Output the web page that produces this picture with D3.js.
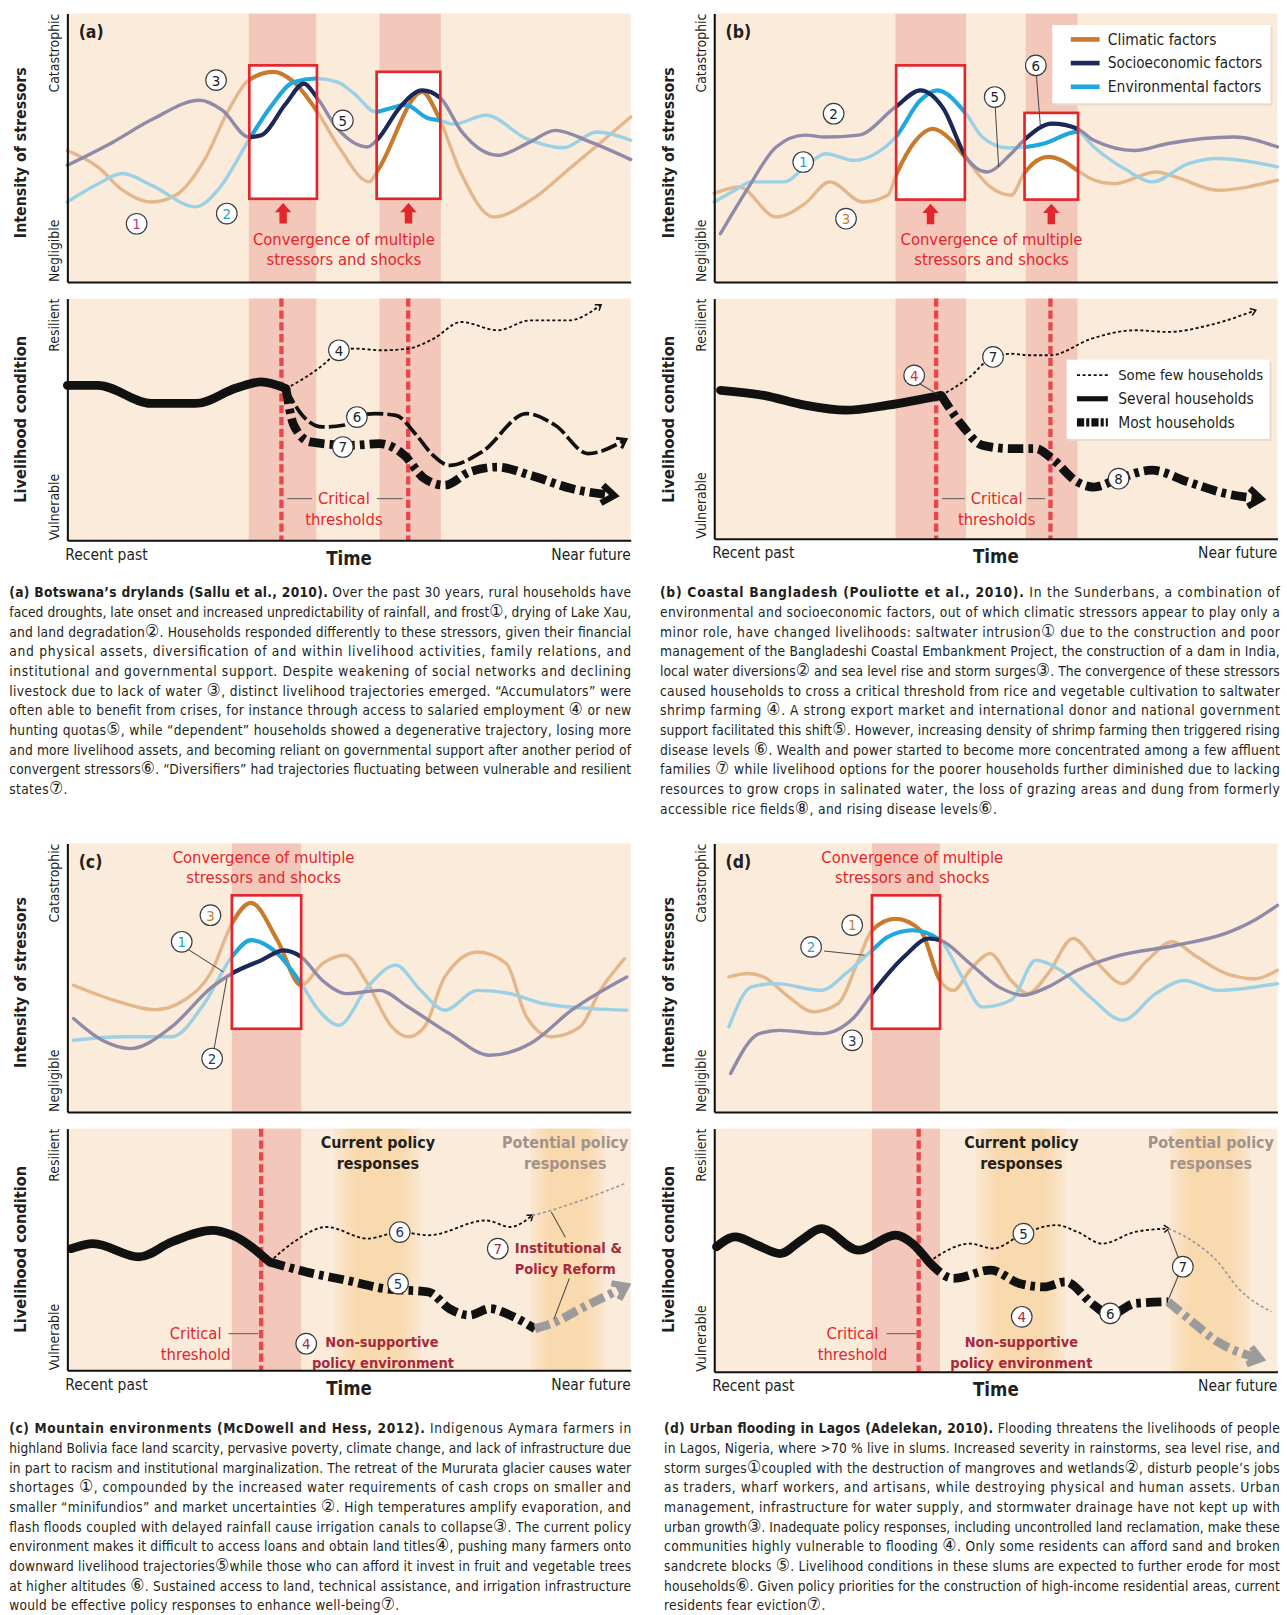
<!DOCTYPE html>
<html><head><meta charset="utf-8">
<script src="https://cdn.jsdelivr.net/npm/d3@7"></script>
<style>
body{margin:0;background:#fff}
svg{display:block}
text{font-family:"Liberation Sans Narrow","DejaVu Sans Condensed","Roboto Condensed","Noto Sans",sans-serif}
</style>
</head><body><script>
// ================= DATA =================
const stressorSeries = ["Climatic factors","Socioeconomic factors","Environmental factors"];
const householdSeries = ["Some few households","Several households","Most households"];
const stressTicks = ["Negligible","Catastrophic"];
const liveTicks = ["Vulnerable","Resilient"];
const timeTicks = ["Recent past","Near future"];
const timeTitle = "Time";
const stressTitle = "Intensity of stressors";
const liveTitle = "Livelihood condition";

// ---- Panel (a) ----
const aBands = [[32.2,44.2],[55.4,66.3]];
const aBoxes = [[32.3,44.3,31,80.7],[54.9,66.2,31,78.3]];
const aClim = [[0,49],[5.4,42.9],[9.8,34.2],[14.9,29.8],[19.2,32.3],[24.3,45.3],[28.6,64],[32.2,75.2],[36.6,78.3],[40.2,74.5],[44.2,64],[48.2,50.3],[53.6,37.3],[55.1,41.6],[63,70.8],[65.9,61.5],[69.9,40.4],[75.7,24.2],[82.2,30.4],[89.5,42.9],[100,61.5]];
const aSocio = [[0,43.5],[8,52],[15,60.5],[23.5,67.7],[27.5,64],[32.2,54],[34.4,54.7],[38.8,66.5],[42,73.9],[44.2,69],[48,57],[53.3,50.3],[55,53],[59,65],[63,71.4],[66.2,68.6],[70,56],[76.4,47.2],[82,52],[86.6,56.5],[93,52],[100,45.6]];
const aEnv = [[0,29.8],[5,36],[9.8,40.4],[15,36],[22.8,28],[27,35],[32.2,52.8],[36,65],[40.2,74.5],[44.2,75.8],[48,74.5],[51,70],[54.7,63.4],[57,64.5],[60,66],[64,61],[66.2,60.2],[68.5,58.8],[74.3,62.1],[81.5,53.4],[88,50],[94,55.9],[100,52.8]];
const aStressLabels = [["1",12.3,21.7,"#c2397a"],["2",28.3,25.5,"#26a3c8"],["3",26.4,75.2,"#222"],["5",48.9,60.2,"#222"]];
const aThresholds = [38,60.5];
const aPre = [[0,64.1],[5.4,64.1],[14.9,56.6],[22.8,56.6],[30,63],[34.4,65.5],[38.8,62.8]];
const aFew = [[38.8,62.8],[42,67],[46,73.8],[48.2,78.6],[51,79.3],[56,78.6],[60.5,79.3],[65,83.4],[69.9,90.3],[76.4,86.9],[82.2,91],[89,91],[94.6,97.2]];
const aSeveral = [[38.8,62.8],[41.7,51.7],[45.3,46.9],[49,47.6],[51.8,51.7],[54.7,52.4],[58.3,51.7],[62,43.4],[64.9,35.2],[67.8,31],[73.6,36.6],[81.5,52.4],[86.6,47.6],[92.4,35.9],[98.9,41.4]];
const aMost = [[38.8,62.8],[40.2,47.6],[43.1,40.7],[50.4,39.3],[55.4,40],[59.8,35.2],[63.4,25.5],[67,22.8],[71.4,28.3],[76.4,30.3],[82.2,26.9],[89.5,21.4],[96.7,18.6]];
const aLiveLabels = [["4",48.2,78.6,"#222"],["6",51.4,51,"#222"],["7",48.9,38.6,"#222"]];

// ---- Panel (b) ----
const bBands = [[32.2,44.7],[55.3,64.5]];
const bBoxes = [[32.3,44.5,30.7,80.7],[55.1,64.6,30.7,63]];
const bClim = [[0,33],[4.4,35.4],[11,24.2],[16.1,29.2],[20.5,37.3],[26.4,29.8],[30.8,32.3],[32.4,40.4],[35.5,52],[38.8,57.1],[42,53],[44.5,46.6],[49,35.4],[52.7,32.3],[55,40.4],[59.3,46.6],[62,45],[64.5,41.6],[67.4,38],[71,36.6],[78.4,41],[82,39.1],[89.4,34.2],[100,37.9]];
const bSocio = [[1.1,18],[6,35],[11,50.3],[16.1,54.7],[19.8,54],[25.6,54.7],[32.2,65.2],[36.6,71.4],[40.7,64.6],[44.7,46.6],[48.4,41],[52.7,47.8],[55.3,53.4],[60,59],[64.5,57.1],[67.4,52.8],[74.7,49],[80.6,51.6],[92.3,54],[100,50.3]];
const bEnv = [[0,29.8],[3.7,34.2],[6.6,37.3],[12.5,37.3],[16.1,42.9],[19.8,47.8],[24.9,45.3],[28.6,47.8],[32.2,54],[36.6,67.7],[39.6,71.4],[44.7,62.7],[47.6,54],[52,50],[55.3,50.3],[58.6,51.6],[64.5,56],[67.4,50.3],[73.3,41.6],[77.7,37.3],[84.2,44.1],[89.4,46],[100,42.9]];
const bStressLabels = [["1",15.8,44.7,"#26a3c8"],["2",21.2,62.7,"#222"],["3",23.4,23.6,"#c9802e"],["5",49.8,68.9,"#222"],["6",57.1,80.7,"#222"]];
const bStressLeaders = [[49.9,65,50.5,42.9],[57.2,77,57.9,58.4]];
const bThresholds = [39.4,59.7];
const bPre = [[1.1,61.8],[8.8,59.7],[16.1,55.6],[23.4,53.5],[30.8,55.6],[40.3,59.7]];
const bFew = [[40.3,59.7],[45.4,67.4],[49,75],[52.7,77],[56,76.4],[59.7,76.4],[67,83.3],[74.7,86.8],[80.6,86.1],[87.9,88.9],[96,95]];
const bMost = [[40.3,59.7],[44,47.2],[47.6,38.9],[52.7,37.5],[57.1,37.5],[60,33.3],[64.5,23.6],[67.4,21.5],[71.8,25],[77.7,28.5],[84.2,23.6],[90.8,18.8],[96.7,16.7]];
const bLiveLabels = [["4",35.5,68,"#e3262b"],["7",49.5,75.7,"#222"],["8",71.8,25,"#222"]];
const bLiveLeaders = [[36.5,64.5,39.6,60.2]];

// ---- Panel (c) ----
const cBands = [[29.2,41.5]];
const cBoxes = [[29.2,41.5,31,80.7]];
const cClim = [[1.1,47.2],[8.3,41.6],[15.6,38.1],[20.7,41.6],[25.7,52.8],[29.2,70.2],[32.6,77.9],[37.3,63.9],[41.5,47.2],[45.3,55.3],[49.3,58.4],[53.3,47.8],[57.6,31.7],[60.5,28],[63.4,31.7],[67,50.3],[72.8,59.6],[77.9,55.3],[81.5,35.4],[85.9,28],[91,31.7],[94.6,45.3],[98.9,57.1]];
const cSocio = [[1.1,34.8],[6.2,26.7],[11.2,23.6],[18.5,31.7],[25.7,46.6],[29.2,51.6],[34.4,56.5],[38.4,60.2],[41.5,57.8],[45.3,49],[49.6,44.1],[55.4,45.3],[60.5,39.1],[67.8,29.2],[75,21.1],[82.2,25.5],[89.5,37.9],[99.3,50.3]];
const cEnv = [[1.1,26.7],[9.8,28],[18.5,28],[24.3,40.4],[29.2,57.8],[32.6,64],[37.3,59],[41.5,47.8],[44.6,37.9],[48.2,32.3],[53.3,46.6],[58.3,54.7],[62.7,45.3],[67,37.9],[72.8,45.3],[78.6,44.1],[84.4,40.4],[93.1,38.5],[99.3,37.9]];
const cStressLabels = [["3",25.4,73.3,"#c9802e"],["1",20.3,63.4,"#26a3c8"],["2",25.7,19.9,"#2a3466"]];
const cStressLeaders = [[21.5,60.5,27.7,52.2],[26,23,28.3,49.7]];
const cThresholds = [34.4];
const cPolicyBands = [[47.5,62.7],[82.2,95.3]];
const cPre = [[0.7,50.3],[4.6,52.4],[12.7,46.9],[18.5,53.1],[25.7,57.9],[29.3,55.9],[35.9,44.8]];
const cFew = [[35.9,44.8],[40.2,53.1],[46,59.3],[53.3,54.5],[59,57.2],[64.1,55.9],[74.3,62],[78.6,59.3],[82.5,64]];
const cFewGrey = [[82.5,64],[85.9,66.2],[92,71],[98.9,77.2]];
const cMost = [[35.9,44.8],[42.4,40.7],[49.6,37.2],[56.2,33.8],[64.1,32.4],[67.8,25.5],[71.4,22.8],[75,25.5],[78.6,22.8],[83,17.2]];
const cMostGrey = [[83,17.2],[85.9,19.3],[91.7,26.2],[98.9,34.5]];
const cLiveLabels = [["6",59,57.2,"#2a3466"],["5",58.7,35.9,"#2a3466"],["7",76.4,50.3,"#a8283c"],["4",42.4,11,"#a8283c"]];
const cLiveLeaders = [[85.9,65.5,88.4,55],[89.1,38,86.4,21.4]];

// ---- Panel (d) ----
const dBands = [[28,40.1]];
const dBoxes = [[28,40.1,31,80.7]];
const dClim = [[2.6,50.3],[5.9,51.6],[8.8,50.3],[13.2,42.9],[17.6,37.3],[22,40.4],[25.6,56.5],[28,67.7],[32.2,72],[36.6,67.7],[40.1,49],[42.5,45.3],[45.4,52.8],[49,59],[52.7,49],[55.7,44.1],[59.3,51.6],[63.7,64.6],[68.1,55.3],[72.5,47.8],[76.9,56.5],[81.3,63.4],[85.7,57.8],[90.8,51.6],[96,49.6],[100,52.8]];
const dSocio = [[2.9,14.3],[8,29.2],[11.7,30.4],[19,29.2],[24.9,35.4],[28,44.1],[33.7,57.8],[38.1,64.6],[40.1,64],[45.4,55.3],[50.5,46.6],[54.9,43.5],[59.3,46.6],[64.5,52.8],[71,57.8],[82,62.1],[90.8,66.5],[95.9,71.4],[100,77]];
const dEnv = [[2.6,31.7],[6.6,46.6],[11,47.8],[19,45.3],[23.4,51.6],[28,60.2],[30.8,65.2],[35.2,67.7],[40.1,64],[44,50.3],[47.6,39.1],[52.7,41.6],[57.1,56.5],[61.5,52.8],[66.7,42.9],[72.5,34.2],[78.4,44.1],[83.5,49],[89.4,45.3],[100,47.8]];
const dStressLabels = [["1",24.5,69.6,"#c9802e"],["2",17.2,61.5,"#26a3c8"],["3",24.5,26.7,"#2a3466"]];
const dStressLeaders = [[19.5,60,26.7,58.4]];
const dThresholds = [36.3];
const dPolicyBands = [[46.5,62.3],[81,95.2]];
const dPre = [[0.4,51.4],[3.7,55.5],[7.7,52],[11.7,48.6],[15.4,54],[19,58.9],[25.6,50],[32.2,56.2],[35.2,52.7],[38.1,45.2]];
const dFew = [[38.1,45.2],[45.4,52.7],[49.5,50.7],[54.9,56.8],[60.8,60.3],[64.5,57.5],[68.9,52.7],[74.7,57.5],[80.6,58.9]];
const dFewGrey = [[80.6,58.9],[84.2,54.8],[89.4,45.2],[93.1,34.2],[98.9,24.7]];
const dMost = [[38.1,45.2],[42.5,38.4],[49.1,41.8],[54.2,36.3],[58.6,34.9],[62.3,37],[67.4,27.4],[70.3,23.3],[74.7,28.1],[80.6,28.8]];
const dMostGrey = [[80.6,28.8],[84.2,21.9],[89.4,12.3],[96.7,5.5]];
const dLiveLabels = [["5",54.9,56.8,"#222"],["7",83.2,43.2,"#222"],["6",70.3,24,"#222"],["4",54.6,22.6,"#a8283c"]];
const dLiveLeaders = [[82.4,47,80.6,58],[82.4,39.5,80.6,29.5]];

// ---- Captions ----
const capATitle = "(a) Botswana’s drylands (Sallu et al., 2010).";
const capALines = [
"  Over the past 30 years, rural households have",
"faced droughts, late onset and increased unpredictability of rainfall, and frost①, drying of Lake Xau,",
"and land degradation②. Households responded differently to these stressors, given their financial",
"and physical assets, diversification of and within livelihood activities, family relations, and",
"institutional and governmental support. Despite weakening of social networks and declining",
"livestock due to lack of water ③, distinct livelihood trajectories emerged. “Accumulators” were",
"often able to benefit from crises, for instance through access to salaried employment ④ or new",
"hunting quotas⑤, while “dependent” households showed a degenerative trajectory, losing more",
"and more livelihood assets, and becoming reliant on governmental support after another period of",
"convergent stressors⑥. “Diversifiers” had trajectories fluctuating between vulnerable and resilient",
"states⑦."];
const capBTitle = "(b) Coastal Bangladesh (Pouliotte et al., 2010).";
const capBLines = [
" In the Sunderbans, a combination of",
"environmental and socioeconomic factors, out of which climatic stressors appear to play only a",
"minor role, have changed livelihoods: saltwater intrusion① due to the construction and poor",
"management of the Bangladeshi Coastal Embankment Project, the construction of a dam in India,",
"local water diversions② and sea level rise and storm surges③. The convergence of these stressors",
"caused households to cross a critical threshold from rice and vegetable cultivation to saltwater",
"shrimp farming ④. A strong export market and international donor and national government",
"support facilitated this shift⑤. However, increasing density of shrimp farming then triggered rising",
"disease levels ⑥. Wealth and power started to become more concentrated among a few affluent",
"families ⑦ while livelihood options for the poorer households further diminished due to lacking",
"resources to grow crops in salinated water, the loss of grazing areas and dung from formerly",
"accessible rice fields⑧, and rising disease levels⑥."];
const capCTitle = "(c) Mountain environments (McDowell and Hess, 2012).";
const capCLines = [
"  Indigenous Aymara farmers in",
"highland Bolivia face land scarcity, pervasive poverty, climate change, and lack of infrastructure due",
"in part to racism and institutional marginalization. The retreat of the Mururata glacier causes water",
"shortages ①, compounded by the increased water requirements of cash crops on smaller and",
"smaller “minifundios” and market uncertainties ②. High temperatures amplify evaporation, and",
"flash floods coupled with delayed rainfall cause irrigation canals to collapse③. The current policy",
"environment makes it difficult to access loans and obtain land titles④, pushing many farmers onto",
"downward livelihood trajectories⑤while those who can afford it invest in fruit and vegetable trees",
"at higher altitudes ⑥. Sustained access to land, technical assistance, and irrigation infrastructure",
"would be effective policy responses to enhance well-being⑦."];
const capDTitle = "(d) Urban flooding in Lagos (Adelekan, 2010).";
const capDLines = [
"  Flooding threatens the livelihoods of people",
"in Lagos, Nigeria, where >70 % live in slums. Increased severity in rainstorms, sea level rise, and",
"storm surges①coupled with the destruction of mangroves and wetlands②, disturb people’s jobs",
"as traders, wharf workers, and artisans, while destroying physical and human assets. Urban",
"management, infrastructure for water supply, and stormwater drainage have not kept up with",
"urban growth③. Inadequate policy responses, including uncontrolled land reclamation, make these",
"communities highly vulnerable to flooding ④. Only some residents can afford sand and broken",
"sandcrete blocks ⑤. Livelihood conditions in these slums are expected to further erode for most",
"households⑥. Given policy priorities for the construction of high-income residential areas, current",
"residents fear eviction⑦."];

// ================= STYLE =================
const COL = {
  clim:"#c97a2c", climF:"#e4b78a", socio:"#1c2858", socioF:"#8f8aa8",
  env:"#1ea8de", envF:"#9bd1e4", red:"#e3262b", dred:"#a8283c",
  peach:"#fbebdb", band:"#f3c7b9", policy:"#f9d9ae", grey:"#9b9b9b", text:"#231f20"
};
const svg = d3.select("body").append("svg").attr("width",1287).attr("height",1615).attr("viewBox","0 0 1250 1568");
const defs = svg.append("defs");

function marker(id,color,size,sw){
  defs.append("marker").attr("id",id).attr("viewBox","0 0 10 10").attr("refX",6).attr("refY",5)
    .attr("markerWidth",size).attr("markerHeight",size).attr("orient","auto").attr("markerUnits","userSpaceOnUse")
    .append("path").attr("d","M1.5,1 L7,5 L1.5,9").attr("fill","none").attr("stroke",color).attr("stroke-width",sw);
}
marker("arT","#111",9,1.6);
marker("arM","#111",14,2.2);
marker("arK","#111",22,2.8);
marker("arKg",COL.grey,22,2.8);

const pg = defs.append("linearGradient").attr("id","polGrad");
[[0,0.25],[0.25,1],[0.75,1],[1,0.25]].forEach(s=>pg.append("stop").attr("offset",s[0]).attr("stop-color",COL.policy).attr("stop-opacity",s[1]));

function fitText(t,len){
  const w=t.node().getComputedTextLength();
  if(w>len){ const fs=parseFloat(t.attr("font-size")); t.attr("font-size",fs*len/w); }
}

function circ(g,x,y,d){
  g.append("circle").attr("cx",x(d[1])).attr("cy",y(d[2])).attr("r",10).attr("fill","#fff").attr("stroke","#3a3a3a").attr("stroke-width",1.1);
  g.append("text").attr("x",x(d[1])).attr("y",y(d[2])).attr("dy","0.36em").attr("text-anchor","middle")
    .attr("font-size",14.5).attr("fill",d[3]).text(d[0]);
}
function leaders(g,x,y,arr){
  g.selectAll(null).data(arr).join("line")
    .attr("x1",d=>x(d[0])).attr("y1",d=>y(d[1])).attr("x2",d=>x(d[2])).attr("y2",d=>y(d[3]))
    .attr("stroke","#4a4a4a").attr("stroke-width",1);
}
function axes(g,x,y,c){
  g.append("g").attr("transform",`translate(${c.x0},0)`).call(d3.axisLeft(y).tickValues([]).tickSizeOuter(0))
    .select(".domain").attr("stroke","#111").attr("stroke-width",2);
  g.append("g").attr("transform",`translate(0,${c.yb})`).call(d3.axisBottom(x).tickValues([]).tickSizeOuter(0))
    .select(".domain").attr("stroke","#111").attr("stroke-width",2);
}
function yLabels(g,c,ticks,title,tlen){
  g.append("text").attr("transform",`translate(${c.x0-8},${c.yt}) rotate(-90)`).attr("text-anchor","end")
    .attr("font-size",13.5).attr("fill",COL.text).text(ticks[1]);
  g.append("text").attr("transform",`translate(${c.x0-8},${c.yb}) rotate(-90)`).attr("text-anchor","start")
    .attr("font-size",13.5).attr("fill",COL.text).text(ticks[0]);
  const t=g.append("text").attr("transform",`translate(${c.x0-c.tx},${c.ty}) rotate(-90)`).attr("text-anchor","middle")
    .attr("font-size",18.5).attr("font-weight","bold").attr("fill",COL.text).text(title);
  fitText(t,tlen);
}

function stressPanel(c){
  const x=d3.scaleLinear([0,100],[c.x0,c.x1]), y=d3.scaleLinear([0,100],[c.yb,c.yt]);
  const g=svg.append("g");
  g.append("rect").attr("x",c.x0).attr("y",c.yt).attr("width",c.x1-c.x0).attr("height",c.yb-c.yt).attr("fill",COL.peach);
  g.append("g").selectAll("rect").data(c.bands).join("rect")
    .attr("x",d=>x(d[0])).attr("width",d=>x(d[1])-x(d[0])).attr("y",c.yt).attr("height",c.yb-c.yt).attr("fill",COL.band);
  g.append("g").selectAll("rect").data(c.boxes).join("rect")
    .attr("x",d=>x(d[0])).attr("width",d=>x(d[1])-x(d[0])).attr("y",d=>y(d[3])).attr("height",d=>y(d[2])-y(d[3])).attr("fill","#fff");
  const cid="clip"+c.id;
  defs.append("clipPath").attr("id",cid).selectAll("rect").data(c.boxes).join("rect")
    .attr("x",d=>x(d[0])).attr("width",d=>x(d[1])-x(d[0])).attr("y",d=>y(d[3])).attr("height",d=>y(d[2])-y(d[3]));
  const line=d3.line().x(d=>x(d[0])).y(d=>y(d[1])).curve(d3.curveMonotoneX);
  const ser=[[c.clim,COL.climF,COL.clim],[c.env,COL.envF,COL.env],[c.socio,COL.socioF,COL.socio]];
  ser.forEach(s=>g.append("path").attr("d",line(s[0])).attr("fill","none").attr("stroke",s[1]).attr("stroke-width",3.3).attr("stroke-linecap","round"));
  const gc=g.append("g").attr("clip-path",`url(#${cid})`);
  ser.forEach(s=>gc.append("path").attr("d",line(s[0])).attr("fill","none").attr("stroke",s[2]).attr("stroke-width",4));
  g.append("g").selectAll("rect").data(c.boxes).join("rect")
    .attr("x",d=>x(d[0])).attr("width",d=>x(d[1])-x(d[0])).attr("y",d=>y(d[3])).attr("height",d=>y(d[2])-y(d[3]))
    .attr("fill","none").attr("stroke",COL.red).attr("stroke-width",2.6);
  if(c.arrows){
    c.boxes.forEach(b=>{
      const cx=x((b[0]+b[1])/2), t=y(b[2])+4;
      g.append("path").attr("fill",COL.red)
        .attr("d",`M${cx},${t} L${cx+8},${t+9} L${cx+3.6},${t+9} L${cx+3.6},${t+20} L${cx-3.6},${t+20} L${cx-3.6},${t+9} L${cx-8},${t+9}Z`);
    });
  }
  c.conv.forEach((s,i)=>g.append("text").attr("x",c.convX).attr("y",c.convY+i*19.5).attr("text-anchor","middle")
    .attr("font-size",16).attr("fill",COL.red).text(s));
  if(c.leaders) leaders(g,x,y,c.leaders);
  c.labels.forEach(d=>circ(g,x,y,d));
  g.append("text").attr("x",c.x0+11).attr("y",c.yt+24).attr("font-size",17).attr("font-weight","bold").attr("fill",COL.text).text(c.letter);
  axes(g,x,y,c);
  yLabels(g,c,stressTicks,stressTitle,166);
  if(c.legend){
    const L=c.legend;
    g.append("rect").attr("x",L[0]+2).attr("y",L[1]+2).attr("width",L[2]).attr("height",L[3]).attr("fill","#e8dcd2");
    g.append("rect").attr("x",L[0]).attr("y",L[1]).attr("width",L[2]).attr("height",L[3]).attr("fill","#fff");
    const cols=[COL.clim,COL.socio,COL.env];
    stressorSeries.forEach((s,i)=>{
      const yy=L[1]+14+i*23;
      g.append("line").attr("x1",L[0]+18).attr("x2",L[0]+46).attr("y1",yy).attr("y2",yy).attr("stroke",cols[i]).attr("stroke-width",4.5);
      const t=g.append("text").attr("x",L[0]+54).attr("y",yy).attr("dy","0.35em").attr("font-size",15).attr("fill",COL.text).text(s);
      fitText(t,L[2]-62);
    });
  }
}

const STY = {
  pre:{w:8.5,da:null,col:"#111"},
  few:{w:1.8,da:"3,2.4",col:"#111",m:"arT"},
  several:{w:3.6,da:"16,4",col:"#111",m:"arM"},
  most:{w:8.5,da:"15,5,4.5,5",col:"#111",m:"arK"},
  fewG:{w:1.6,da:"3,2.4",col:COL.grey},
  mostG:{w:8.5,da:"15,5,4.5,5",col:COL.grey,m:"arKg"}
};

function livePanel(c){
  const x=d3.scaleLinear([0,100],[c.x0,c.x1]), y=d3.scaleLinear([0,100],[c.yb,c.yt]);
  const g=svg.append("g");
  g.append("rect").attr("x",c.x0).attr("y",c.yt).attr("width",c.x1-c.x0).attr("height",c.yb-c.yt).attr("fill",COL.peach);
  g.append("g").selectAll("rect").data(c.bands).join("rect")
    .attr("x",d=>x(d[0])).attr("width",d=>x(d[1])-x(d[0])).attr("y",c.yt).attr("height",c.yb-c.yt).attr("fill",COL.band);
  if(c.policy) g.append("g").selectAll("rect").data(c.policy).join("rect")
    .attr("x",d=>x(d[0])).attr("width",d=>x(d[1])-x(d[0])).attr("y",c.yt).attr("height",c.yb-c.yt).attr("fill","url(#polGrad)");
  g.append("g").selectAll("line").data(c.thresholds).join("line")
    .attr("x1",d=>x(d)).attr("x2",d=>x(d)).attr("y1",c.yt).attr("y2",c.yb)
    .attr("stroke","#e8474c").attr("stroke-width",4.2).attr("stroke-dasharray","8,3.5");
  if(c.texts) c.texts.forEach(t=>{
    const el=g.append("text").attr("x",t[0]).attr("y",t[1]).attr("text-anchor",t[3]||"middle").attr("font-size",t[5]||16)
      .attr("font-weight",t[4]||"normal").attr("fill",t[6]||COL.red).text(t[2]);
    if(t[7]) fitText(el,t[7]);
  });
  if(c.hlines) g.append("g").selectAll("line").data(c.hlines).join("line")
    .attr("x1",d=>d[0]).attr("x2",d=>d[1]).attr("y1",d=>d[2]).attr("y2",d=>d[2]).attr("stroke","#666").attr("stroke-width",1.1);
  const line=d3.line().x(d=>x(d[0])).y(d=>y(d[1])).curve(d3.curveMonotoneX);
  c.lines.forEach(l=>{
    const s=STY[l[1]];
    const p=g.append("path").attr("d",line(l[0])).attr("fill","none").attr("stroke",s.col).attr("stroke-width",s.w)
      .attr("stroke-linecap",l[1]==="pre"?"round":"butt");
    if(s.da) p.attr("stroke-dasharray",s.da);
    if(s.m && l[2]!==false) p.attr("marker-end",`url(#${s.m})`);
  });
  if(c.leaders) leaders(g,x,y,c.leaders);
  c.labels.forEach(d=>circ(g,x,y,d));
  axes(g,x,y,c);
  yLabels(g,c,liveTicks,liveTitle,162);
  g.append("text").attr("x",c.x0-2).attr("y",c.yb+19).attr("font-size",15).attr("fill",COL.text).text(timeTicks[0]);
  g.append("text").attr("x",c.x1).attr("y",c.yb+19).attr("text-anchor","end").attr("font-size",15).attr("fill",COL.text).text(timeTicks[1]);
  g.append("text").attr("x",(c.x0+c.x1)/2).attr("y",c.yb+24).attr("text-anchor","middle").attr("font-size",18).attr("font-weight","bold").attr("fill",COL.text).text(timeTitle);
  if(c.legend){
    const L=c.legend;
    g.append("rect").attr("x",L[0]+2).attr("y",L[1]+2).attr("width",L[2]).attr("height",L[3]).attr("fill","#e8dcd2");
    g.append("rect").attr("x",L[0]).attr("y",L[1]).attr("width",L[2]).attr("height",L[3]).attr("fill","#fff");
    const st=[STY.few,{w:5,da:null,col:"#111"},{w:8,da:"7,2,3,2",col:"#111"}];
    householdSeries.forEach((s,i)=>{
      const yy=L[1]+15+i*23;
      const ln=g.append("line").attr("x1",L[0]+10).attr("x2",L[0]+40).attr("y1",yy).attr("y2",yy).attr("stroke",st[i].col).attr("stroke-width",st[i].w);
      if(st[i].da) ln.attr("stroke-dasharray",st[i].da);
      const t=g.append("text").attr("x",L[0]+50).attr("y",yy).attr("dy","0.35em").attr("font-size",15).attr("fill",COL.text).text(s);
      fitText(t,L[2]-56);
    });
  }
}

const conv=["Convergence of multiple","stressors and shocks"];
const L1=[65.4,612.6], L2=[693.7,1240.7];

stressPanel({id:"a",letter:"(a)",x0:L1[0],x1:L1[1],yt:12.9,yb:273.6,tx:40,ty:148,bands:aBands,boxes:aBoxes,
  clim:aClim,socio:aSocio,env:aEnv,labels:aStressLabels,arrows:true,conv:conv,convX:334,convY:238});
stressPanel({id:"b",letter:"(b)",x0:L2[0],x1:L2[1],yt:12.9,yb:273.6,tx:39,ty:148,bands:bBands,boxes:bBoxes,
  clim:bClim,socio:bSocio,env:bEnv,labels:bStressLabels,leaders:bStressLeaders,arrows:true,conv:conv,convX:963,convY:238,
  legend:[1022,24,212,76]});
stressPanel({id:"c",letter:"(c)",x0:L1[0],x1:L1[1],yt:819,yb:1079.7,tx:40,ty:954,bands:cBands,boxes:cBoxes,
  clim:cClim,socio:cSocio,env:cEnv,labels:cStressLabels,leaders:cStressLeaders,arrows:false,conv:conv,convX:256,convY:838});
stressPanel({id:"d",letter:"(d)",x0:L2[0],x1:L2[1],yt:819,yb:1079.7,tx:39,ty:954,bands:dBands,boxes:dBoxes,
  clim:dClim,socio:dSocio,env:dEnv,labels:dStressLabels,leaders:dStressLeaders,arrows:false,conv:conv,convX:886,convY:838});

livePanel({x0:L1[0],x1:L1[1],yt:289.7,yb:524.5,tx:40,ty:407,bands:aBands,thresholds:aThresholds,
  lines:[[aPre,"pre"],[aFew,"few"],[aSeveral,"several"],[aMost,"most"]],labels:aLiveLabels,
  texts:[[334,489,"Critical"],[334,510,"thresholds"]],hlines:[[279,303,484],[366,391,484]]});
livePanel({x0:L2[0],x1:L2[1],yt:289.7,yb:522.9,tx:39,ty:407,bands:bBands,thresholds:bThresholds,
  lines:[[bPre,"pre"],[bFew,"few"],[bMost,"most"]],labels:bLiveLabels,leaders:bLiveLeaders,
  texts:[[968,489,"Critical"],[968,510,"thresholds"]],hlines:[[915,937,484],[998,1015,484]],
  legend:[1036,349,197,77]});
livePanel({x0:L1[0],x1:L1[1],yt:1095.9,yb:1330.6,tx:40,ty:1213,bands:cBands,policy:cPolicyBands,thresholds:cThresholds,
  lines:[[cPre,"pre"],[cFew,"few"],[cFewGrey,"fewG"],[cMost,"most",false],[cMostGrey,"mostG"]],labels:cLiveLabels,leaders:cLiveLeaders,
  texts:[[190,1300,"Critical"],[190,1321,"threshold"],
    [367,1115,"Current policy","middle","bold",15.5,COL.text],[367,1135,"responses","middle","bold",15.5,COL.text],
    [549,1115,"Potential policy","middle","bold",15.5,"#a3928a"],[549,1135,"responses","middle","bold",15.5,"#a3928a"],
    [500,1217,"Institutional &","start","bold",15.5,COL.dred,104],[500,1237,"Policy Reform","start","bold",15.5,COL.dred,98],
    [316,1308,"Non-supportive","start","bold",15.5,COL.dred,110],[372,1328,"policy environment","middle","bold",15.5,COL.dred,138]],
  hlines:[[222,251,1295]]});
livePanel({x0:L2[0],x1:L2[1],yt:1095.9,yb:1332,tx:39,ty:1213,bands:dBands,policy:dPolicyBands,thresholds:dThresholds,
  lines:[[dPre,"pre"],[dFew,"few"],[dFewGrey,"fewG"],[dMost,"most",false],[dMostGrey,"mostG"]],labels:dLiveLabels,leaders:dLiveLeaders,
  texts:[[828,1300,"Critical"],[828,1321,"threshold"],
    [992,1115,"Current policy","middle","bold",15.5,COL.text],[992,1135,"responses","middle","bold",15.5,COL.text],
    [1176,1115,"Potential policy","middle","bold",15.5,"#a3928a"],[1176,1135,"responses","middle","bold",15.5,"#a3928a"],
    [992,1308,"Non-supportive","middle","bold",15.5,COL.dred,110],[992,1328,"policy environment","middle","bold",15.5,COL.dred,138]],
  hlines:[[861,890,1295]]});

// rich text: circled digits drawn a little larger, as in the printed figure
function addRich(t,str){
  str.split(/([\u2460-\u2469])/).forEach(seg=>{
    if(!seg) return;
    const sp=t.append("tspan").text(seg);
    if(/[\u2460-\u2469]/.test(seg)) sp.attr("font-size","1.3em");
  });
}
function caption(title,lines,x0,x1,y0){
  const fs0=14.6;
  const g=svg.append("g").attr("fill",COL.text);
  const els=lines.map((ln,i)=>{
    const t=g.append("text").attr("x",x0).attr("y",y0+i*19.1).attr("font-size",fs0);
    if(i===0) t.append("tspan").attr("font-weight","bold").text(title);
    addRich(t,ln);
    return t;
  });
  const target=x1-x0;
  const minR=d3.min(els.slice(0,-1).map(t=>target/t.node().getComputedTextLength()));
  const fs=fs0*Math.min(1,minR*0.995);
  els.forEach(t=>t.attr("font-size",fs));
  const r=d3.median(els.slice(0,-1).map(t=>target/t.node().getComputedTextLength()));
  els.forEach((t,i)=>{
    const nat=t.node().getComputedTextLength();
    const w=i<els.length-1?target:Math.min(target,nat*r);
    t.attr("textLength",w).attr("lengthAdjust","spacing");
  });
}
caption(capATitle,capALines,9,613,580);
caption(capBTitle,capBLines,641,1243,580);
caption(capCTitle,capCLines,9,613,1392);
caption(capDTitle,capDLines,645,1243,1392);
</script></body></html>
